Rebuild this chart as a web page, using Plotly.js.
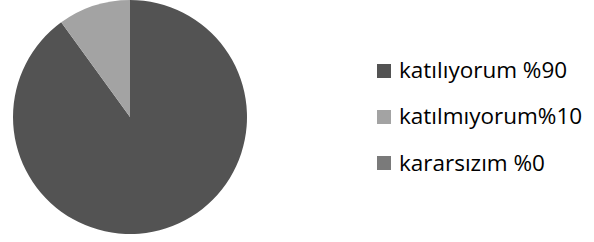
<!DOCTYPE html>
<html>
<head>
<meta charset="utf-8">
<script src="https://cdn.plot.ly/plotly-3.0.1.min.js"></script>
<style>html,body{margin:0;padding:0;background:#fff;}#chart{width:594px;height:242px;}</style>
</head>
<body>
<div id="chart"></div>
<script>
const labels = ["katılıyorum %90", "katılmıyorum%10", "kararsızım %0"];
const values = [90, 10, 0];
const colors = ["#535353", "#a3a3a3", "#7a7a7a"];

const W = 594, H = 242;
const legendX = 377, textX = 397, rowY0 = 71, rowGap = 46, sq = 14;

const shapes = [], annotations = [];
labels.forEach((lab, i) => {
  const cy = rowY0 + i * rowGap;
  shapes.push({
    type: "rect", xref: "paper", yref: "paper",
    x0: legendX / W, x1: (legendX + sq) / W,
    y0: 1 - (cy + sq / 2) / H, y1: 1 - (cy - sq / 2) / H,
    fillcolor: colors[i], line: {width: 0}
  });
  annotations.push({
    xref: "paper", yref: "paper", x: textX / W, y: 1 - (cy - 1) / H,
    xanchor: "left", yanchor: "middle", showarrow: false,
    text: lab, font: {family: "Open Sans", size: 22.5, color: "#000"}
  });
});

Plotly.newPlot("chart", [{
  type: "pie", labels: labels, values: values, sort: false,
  direction: "clockwise", rotation: 0, textinfo: "none", hoverinfo: "label+value",
  marker: {colors: colors, line: {width: 0}},
  domain: {x: [13 / W, 247 / W], y: [8 / H, 1]},
  showlegend: false
}], {
  width: W, height: H, margin: {l: 0, r: 0, t: 0, b: 0},
  paper_bgcolor: "#fff", plot_bgcolor: "#fff",
  shapes: shapes, annotations: annotations, showlegend: false
}, {displayModeBar: false, staticPlot: true});
</script>
</body>
</html>
